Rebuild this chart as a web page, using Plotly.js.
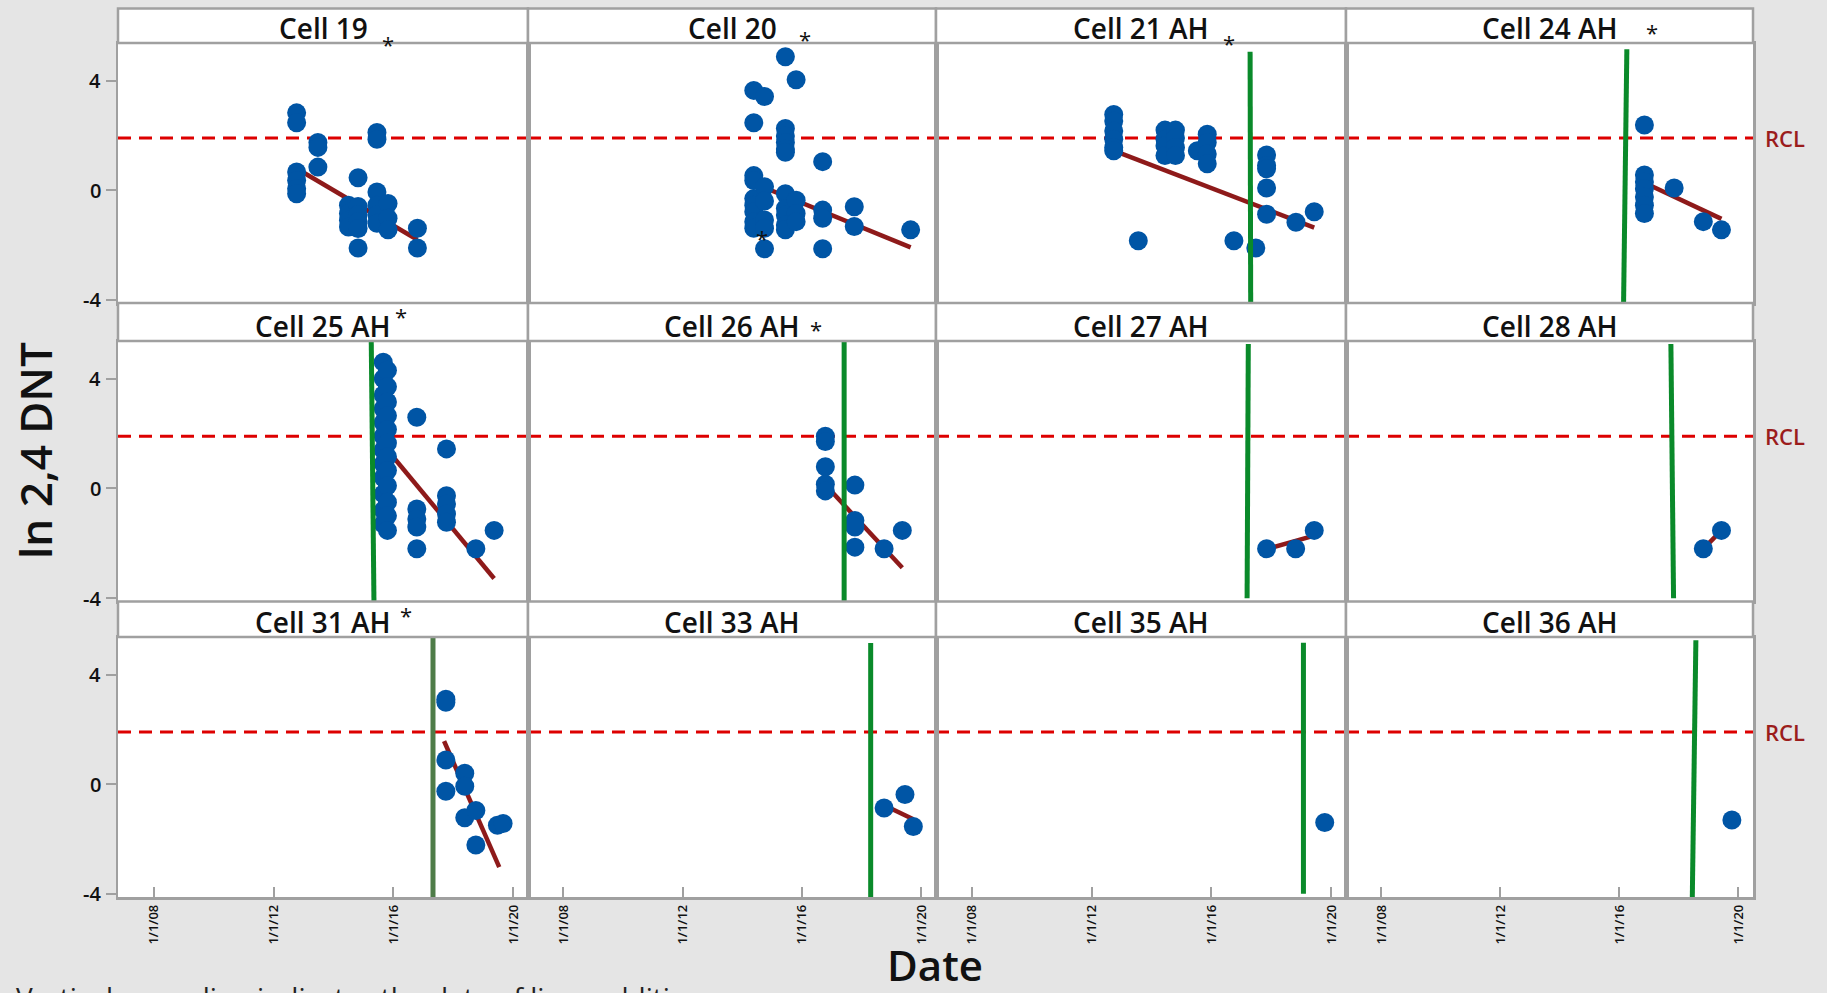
<!DOCTYPE html>
<html><head><meta charset="utf-8">
<script src="https://cdn.plot.ly/plotly-3.0.1.min.js"></script>
<style>html,body{margin:0;padding:0;background:#e5e5e5;overflow:hidden}#chart{width:1827px;height:993px}</style>
</head><body><div id="chart"></div>
<script>
// ---------------- DATA ----------------
const panelNames = ['Cell 19','Cell 20','Cell 21 AH','Cell 24 AH','Cell 25 AH','Cell 26 AH','Cell 27 AH','Cell 28 AH','Cell 31 AH','Cell 33 AH','Cell 35 AH','Cell 36 AH'];
const xTickVals = [2008, 2012, 2016, 2020];
const xTickLabels = ['1/1/08','1/1/12','1/1/16','1/1/20'];
const yTickVals = [-4, 0, 4];
const yTickLabels = ['-4', '0', '4'];
const rcl = 1.9;

const cell19X = [2012.77,2012.77,2012.77,2012.77,2012.77,2012.77, 2013.48,2013.48,2013.48, 2014.50,2014.50,2014.50,2014.50, 2014.82,2014.82,2014.82,2014.82,2014.82,2014.82, 2015.45,2015.45,2015.45,2015.45,2015.45,2015.45, 2015.82,2015.82,2015.82, 2016.80,2016.80];
const cell19Y = [2.82,2.46,0.66,0.35,0.05,-0.13, 1.74,1.56,0.84, -0.55,-0.85,-1.10,-1.35, 0.45,-0.60,-0.90,-1.15,-1.40,-2.11, 2.10,1.86,-0.07,-0.55,-0.91,-1.21, -0.49,-1.03,-1.45, -1.39,-2.11];

const cell20X = [2014.38,2014.38,2014.38,2014.38,2014.38,2014.38,2014.38,2014.38,2014.38, 2014.74,2014.74,2014.74,2014.74,2014.74,2014.74, 2015.44,2015.44,2015.44,2015.44,2015.44,2015.44,2015.44,2015.44,2015.44,2015.44,2015.44, 2015.80,2015.80,2015.80,2015.80, 2016.69,2016.69,2016.69,2016.69, 2017.75,2017.75, 2019.64];
const cell20Y = [3.64,2.46,0.53,0.35,-0.31,-0.55,-0.79,-1.15,-1.39, 3.42,0.12,-0.40,-1.09,-1.39,-2.14, 4.87,2.25,1.98,1.74,1.50,1.38,-0.13,-0.67,-0.91,-1.27,-1.45, 4.03,-0.37,-0.85,-1.15, 1.04,-0.73,-1.03,-2.14, -0.61,-1.33, -1.45];

const cell21X = [2012.74,2012.74,2012.74,2012.74,2012.74,2012.74, 2013.56, 2014.45,2014.45,2014.45,2014.45, 2014.80,2014.80,2014.80,2014.80, 2015.53, 2015.86,2015.86,2015.86,2015.86, 2016.75, 2017.48, 2017.84,2017.84,2017.84,2017.84,2017.84, 2018.82, 2019.43];
const cell21Y = [2.76,2.52,2.16,1.86,1.56,1.44, -1.85, 2.19,1.86,1.62,1.26, 2.19,1.90,1.56,1.26, 1.44, 2.04,1.74,1.32,0.96, -1.85, -2.11, 1.28,0.90,0.78,0.08,-0.88, -1.17, -0.79];

const cell24X = [2016.84,2016.84,2016.84,2016.84,2016.84,2016.84,2016.84, 2017.84, 2018.82, 2019.43];
const cell24Y = [2.38,0.55,0.30,0.05,-0.25,-0.55,-0.85, 0.08, -1.15, -1.45];

const cell25X = [2015.66,2015.66,2015.66,2015.66,2015.66,2015.66,2015.66,2015.66,2015.66,2015.66,2015.66,2015.66, 2015.80,2015.80,2015.80,2015.80,2015.80,2015.80,2015.80,2015.80,2015.80,2015.80,2015.80,2015.80, 2016.78,2016.78,2016.78,2016.78,2016.78, 2017.77,2017.77,2017.77,2017.77,2017.77, 2018.75, 2019.36];
const cell25Y = [4.60,4.00,3.40,2.90,2.40,1.90,1.40,0.90,0.40,-0.20,-0.80,-1.30, 4.30,3.70,3.15,2.65,2.15,1.65,1.15,0.65,0.10,-0.50,-1.00,-1.53, 2.59,-0.75,-1.11,-1.41,-2.20, 1.44,-0.27,-0.57,-0.93,-1.23, -2.20, -1.53];

const cell26X = [2016.78,2016.78,2016.78,2016.78,2016.78, 2017.77,2017.77,2017.77,2017.77, 2018.75, 2019.36];
const cell26Y = [1.90,1.71,0.79,0.15,-0.09, 0.12,-1.17,-1.41,-2.14, -2.20, -1.53];

const cell27X = [2017.84, 2018.81, 2019.43];
const cell27Y = [-2.20, -2.20, -1.53];
const cell28X = [2018.82, 2019.43];
const cell28Y = [-2.20, -1.53];
const cell31X = [2017.75,2017.75,2017.75,2017.75, 2018.38,2018.38,2018.38, 2018.75,2018.75, 2019.47, 2019.66];
const cell31Y = [3.10,2.99,0.88,-0.26, 0.40,-0.08,-1.23, -0.96,-2.22, -1.50, -1.44];
const cell33X = [2018.75, 2019.45, 2019.73];
const cell33Y = [-0.87, -0.38, -1.55];
const cell35X = [2019.78];
const cell35Y = [-1.40];
const cell36X = [2019.78];
const cell36Y = [-1.31];

// trend lines (end points)
const trend19X = [2012.77, 2016.80], trend19Y = [0.79, -1.81];
const trend20X = [2014.38, 2019.64], trend20Y = [0.25, -2.09];
const trend21X = [2012.74, 2019.43], trend21Y = [1.44, -1.37];
const trend24X = [2016.84, 2019.43], trend24Y = [0.27, -1.05];
const trend25X = [2015.73, 2019.36], trend25Y = [1.49, -3.28];
const trend26X = [2016.78, 2019.36], trend26Y = [0.13, -2.89];
const trend27X = [2017.84, 2019.43], trend27Y = [-2.21, -1.72];
const trend28X = [2018.82, 2019.43], trend28Y = [-2.20, -1.53];
const trend31X = [2017.69, 2019.53], trend31Y = [1.57, -3.03];
const trend33X = [2018.75, 2019.73], trend33Y = [-0.77, -1.28];

// liner addition dates (green lines, top and bottom ends)
const liner21X = [2017.29, 2017.31], liner21Y = [5.05, -4.12];
const liner24X = [2016.25, 2016.14], liner24Y = [5.14, -4.12];
const liner25X = [2015.26, 2015.35], liner25Y = [5.37, -4.12];
const liner26X = [2017.41, 2017.41], liner26Y = [5.37, -4.12];
const liner27X = [2017.23, 2017.19], liner27Y = [5.26, -4.00];
const liner28X = [2017.73, 2017.82], liner28Y = [5.26, -4.00];
const liner31X = [2017.32, 2017.32], liner31Y = [5.37, -4.12];
const liner33X = [2018.30, 2018.30], liner33Y = [5.15, -4.12];
const liner35X = [2019.07, 2019.07], liner35Y = [5.16, -4.00];
const liner36X = [2018.57, 2018.45], liner36Y = [5.25, -4.12];

const pointsX = [cell19X,cell20X,cell21X,cell24X,cell25X,cell26X,cell27X,cell28X,cell31X,cell33X,cell35X,cell36X];
const pointsY = [cell19Y,cell20Y,cell21Y,cell24Y,cell25Y,cell26Y,cell27Y,cell28Y,cell31Y,cell33Y,cell35Y,cell36Y];
const trendsX = [trend19X,trend20X,trend21X,trend24X,trend25X,trend26X,trend27X,trend28X,trend31X,trend33X,null,null];
const trendsY = [trend19Y,trend20Y,trend21Y,trend24Y,trend25Y,trend26Y,trend27Y,trend28Y,trend31Y,trend33Y,null,null];
const linersX = [null,null,liner21X,liner24X,liner25X,liner26X,liner27X,liner28X,liner31X,liner33X,liner35X,liner36X];
const linersY = [null,null,liner21Y,liner24Y,liner25Y,liner26Y,liner27Y,liner28Y,liner31Y,liner33Y,liner35Y,liner36Y];

// ---------------- LAYOUT / STYLE ----------------
const W = 1827, H = 993;
const fx = p => p / W, fy = p => 1 - p / H;
const colL = [118, 528, 936, 1346], colR = [528, 936, 1346, 1753];
const stripTop = [8.5, 303, 601.5], plotTop = [43, 341, 637], plotBot = [303, 601.5, 897];
const xRange = [2006.81, 2020.49], yRange = [-4.12, 5.37];
const FONT = '"Open Sans", "Noto Sans", sans-serif';
const frameColor = '#a0a0a0';
const markerColor = '#0055a5';
const trendColor = '#8e1a1a';
const rclColor = '#dd0000';
const linerColors = ['#0a8a2a','#0a8a2a','#0a8a2a','#0a8a2a','#0a8a2a','#0a8a2a','#0a8a2a','#0a8a2a','#4e7c48','#0a8a2a','#0a8a2a','#0a8a2a'];

const traces = [];
const layout = {
  width: W, height: H,
  margin: {l: 0, r: 0, t: 0, b: 0},
  paper_bgcolor: '#e5e5e5', plot_bgcolor: '#ffffff',
  showlegend: false,
  font: {family: FONT, color: '#111'},
  shapes: [], annotations: []
};

for (let i = 0; i < 12; i++) {
  const r = Math.floor(i / 4), c = i % 4, n = i + 1;
  const sfx = n === 1 ? '' : String(n);
  const xa = 'x' + sfx, ya = 'y' + sfx;
  const bottom = r === 2, left = c === 0;
  layout['xaxis' + sfx] = {
    domain: [fx(colL[c]), fx(colR[c])], anchor: ya, range: xRange,
    showline: true, mirror: true, linecolor: frameColor, linewidth: 2.5,
    showgrid: false, zeroline: false, fixedrange: true,
    tickmode: 'array', tickvals: bottom ? xTickVals : [], ticktext: bottom ? xTickLabels : [],
    ticks: bottom ? 'inside' : '', ticklen: 10, tickwidth: 2, tickcolor: frameColor,
    showticklabels: bottom, tickangle: -90,
    tickfont: {size: 13, family: FONT, color: '#111', weight: 600}
  };
  layout['yaxis' + sfx] = {
    domain: [fy(plotBot[r]), fy(plotTop[r])], anchor: xa, range: yRange,
    showline: true, mirror: true, linecolor: frameColor, linewidth: 2.5,
    showgrid: false, zeroline: false, fixedrange: true,
    tickmode: 'array', tickvals: left ? yTickVals : [], ticktext: left ? yTickLabels : [],
    ticks: left ? 'outside' : '', ticklen: 10, tickwidth: 2, tickcolor: frameColor,
    showticklabels: false
  };
  // y tick labels, placed next to the tick marks
  if (left) yTickVals.forEach((v, k) => layout.annotations.push({xref: 'paper', yref: ya, x: fx(103), y: v,
    xanchor: 'right', yanchor: 'middle', showarrow: false, text: yTickLabels[k],
    font: {size: 20, family: FONT, color: '#111', weight: 600}}));
  // RCL dashed line
  layout.shapes.push({type: 'line', xref: xa + ' domain', yref: ya, x0: 0, x1: 1, y0: rcl, y1: rcl,
    line: {color: rclColor, width: 3, dash: '13px,8px'}, layer: 'below'});
  // strip
  layout.shapes.push({type: 'rect', xref: 'paper', yref: 'paper',
    x0: fx(colL[c]), x1: fx(colR[c]), y0: fy(plotTop[r]), y1: fy(stripTop[r]),
    fillcolor: '#ffffff', line: {color: frameColor, width: 2.5}, layer: 'above'});
  layout.annotations.push({xref: 'paper', yref: 'paper', x: fx((colL[c] + colR[c]) / 2), y: fy(plotTop[r]),
    xanchor: 'center', yanchor: 'bottom', yshift: -6, showarrow: false, text: panelNames[i],
    font: {size: 28, family: FONT, color: '#111', weight: 600}});

  if (trendsX[i]) traces.push({type: 'scatter', mode: 'lines', x: trendsX[i], y: trendsY[i], xaxis: xa, yaxis: ya,
    line: {color: trendColor, width: 4.5}, hoverinfo: 'skip'});
  traces.push({type: 'scatter', mode: 'markers', x: pointsX[i], y: pointsY[i], xaxis: xa, yaxis: ya,
    marker: {color: markerColor, size: 19, line: {width: 0}}, cliponaxis: true});
  if (linersX[i]) traces.push({type: 'scatter', mode: 'lines', x: linersX[i], y: linersY[i], xaxis: xa, yaxis: ya,
    line: {color: linerColors[i], width: 5}, hoverinfo: 'skip'});
}

// RCL labels
['y', 'y5', 'y9'].forEach(ya => layout.annotations.push({xref: 'paper', yref: ya, x: fx(1763), y: rcl,
  xanchor: 'left', yanchor: 'middle', showarrow: false, text: 'RCL', font: {size: 22, family: FONT, color: '#9b1c1c', weight: 600}}));

// asterisks
const stars = [[388, 44], [805, 39], [1229, 43], [1652, 32], [401, 316], [816, 329], [406, 615]];
stars.forEach(s => layout.annotations.push({xref: 'paper', yref: 'paper', x: fx(s[0]), y: fy(s[1]),
  xanchor: 'center', yanchor: 'middle', showarrow: false, text: '*', font: {size: 22, family: FONT, color: '#111'}}));
layout.annotations.push({xref: 'x2', yref: 'y2', x: 2014.67, y: -1.61, yshift: -4, xanchor: 'center', yanchor: 'middle',
  showarrow: false, text: '*', font: {size: 22, family: FONT, color: '#111'}});

// axis titles
layout.annotations.push({xref: 'paper', yref: 'paper', x: fx(35), y: fy(451), textangle: -90,
  xanchor: 'center', yanchor: 'middle', showarrow: false, text: 'ln 2,4 DNT',
  font: {size: 44, family: FONT, color: '#111', weight: 600}});
layout.annotations.push({xref: 'paper', yref: 'paper', x: fx(935), y: fy(964),
  xanchor: 'center', yanchor: 'middle', showarrow: false, text: 'Date',
  font: {size: 42, family: FONT, color: '#111', weight: 600}});
// footnote (cut at the page edge in the original)
layout.annotations.push({xref: 'paper', yref: 'paper', x: fx(14), y: fy(976),
  xanchor: 'left', yanchor: 'top', showarrow: false, text: 'Vertical green line indicates the date of liner addition',
  font: {size: 28, family: FONT, color: '#222'}});

Plotly.newPlot('chart', traces, layout, {staticPlot: true, displayModeBar: false});
</script></body></html>
